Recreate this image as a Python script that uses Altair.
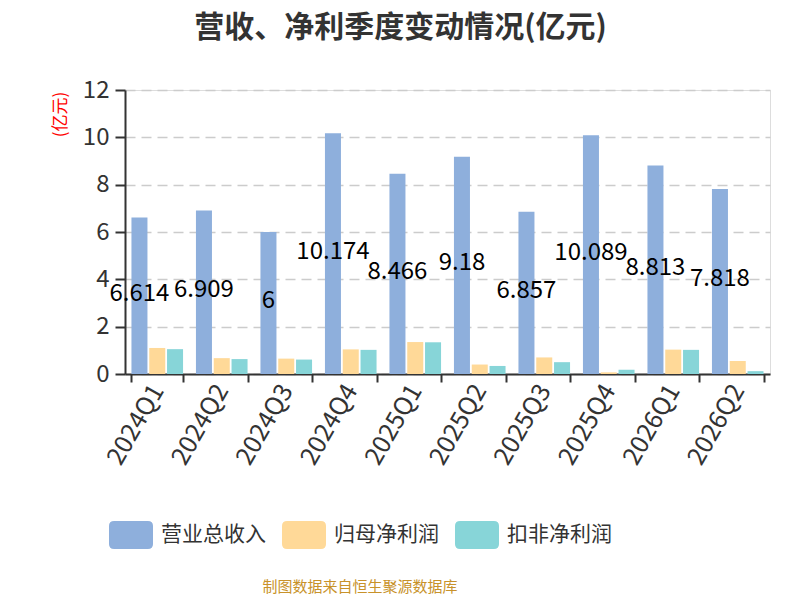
import altair as alt
import pandas as pd

quarters = ["2024Q1", "2024Q2", "2024Q3", "2024Q4", "2025Q1", "2025Q2", "2025Q3", "2025Q4", "2026Q1", "2026Q2"]
series_names = ["营业总收入", "归母净利润", "扣非净利润"]
revenue = [6.614, 6.909, 6, 10.174, 8.466, 9.18, 6.857, 10.089, 8.813, 7.818]
net_profit = [1.10, 0.67, 0.65, 1.04, 1.35, 0.40, 0.70, 0.07, 1.03, 0.55]
deducted_profit = [1.05, 0.63, 0.61, 1.02, 1.34, 0.34, 0.50, 0.18, 1.02, 0.12]
colors = ["#8EAFDC", "#FFD998", "#87D5D8"]

rows = []
for s, vals in zip(series_names, [revenue, net_profit, deducted_profit]):
    for q, v in zip(quarters, vals):
        rows.append({"quarter": q, "series": s, "value": v})
df = pd.DataFrame(rows)

FONT = "Noto Sans CJK SC"
legend_path = ("M-0.77,-0.636 L0.77,-0.636 Q1,-0.636 1,-0.41 L1,0.41 Q1,0.636 0.77,0.636 "
               "L-0.77,0.636 Q-1,0.636 -1,0.41 L-1,-0.41 Q-1,-0.636 -0.77,-0.636 Z")

x_enc = alt.X(
    "quarter:N",
    sort=quarters,
    scale=alt.Scale(paddingInner=0.2, paddingOuter=0.1),
    axis=alt.Axis(
        title=None,
        labelAngle=-60,
        labelFontSize=25,
        labelColor="#333333",
        labelFont=FONT,
        labelPadding=4,
        tickBand="extent",
        tickSize=8,
        tickWidth=2,
        tickColor="#333333",
        domainColor="#333333",
        domainWidth=2,
        grid=False,
    ),
)
xoff_enc = alt.XOffset(
    "series:N",
    sort=series_names,
    scale=alt.Scale(domain=series_names, paddingInner=0.1, paddingOuter=0),
)

bars = alt.Chart(df).mark_bar().encode(
    x=x_enc,
    xOffset=xoff_enc,
    y=alt.Y(
        "value:Q",
        scale=alt.Scale(domain=[0, 12], nice=False),
        axis=alt.Axis(
            values=[0, 2, 4, 6, 8, 10, 12],
            title="(亿元)",
            titleColor="red",
            titleFontSize=17,
            titleFontWeight="normal",
            titleFont=FONT,
            titleX=-65,
            titleY=24,
            titleAngle=270,
            titleAlign="center",
            titleBaseline="middle",
            labelFontSize=24,
            labelColor="#333333",
            labelFont=FONT,
            labelPadding=6,
            tickSize=10,
            tickWidth=2,
            tickColor="#333333",
            domainColor="#333333",
            domainWidth=2,
            grid=True,
            gridColor="#cccccc",
            gridDash=[10, 6],
            gridWidth=1.5,
        ),
    ),
    color=alt.Color(
        "series:N",
        sort=series_names,
        scale=alt.Scale(domain=series_names, range=colors),
        legend=alt.Legend(
            title=None,
            orient="none",
            legendX=-16,
            legendY=423,
            direction="horizontal",
            columns=3,
            symbolType=legend_path,
            symbolSize=1936,
            symbolStrokeWidth=0,
            symbolOpacity=1,
            labelFontSize=21,
            labelColor="#333333",
            labelFont=FONT,
            labelOffset=8,
            labelLimit=300,
            columnPadding=16,
        ),
    ),
)

labels = alt.Chart(df).transform_filter(
    alt.datum.series == "营业总收入"
).transform_calculate(
    half="datum.value / 2"
).mark_text(fontSize=24, color="#000000", font=FONT, baseline="middle", dy=-2).encode(
    x=alt.X("quarter:N", sort=quarters),
    xOffset=alt.XOffset("series:N", sort=series_names),
    y=alt.Y("half:Q"),
    text=alt.Text("value:Q"),
)

source = alt.Chart(pd.DataFrame({"t": ["制图数据来自恒生聚源数据库"]})).mark_text(
    fontSize=15, color="#C8922A", font=FONT, baseline="middle", align="center"
).encode(
    x=alt.value(235),
    y=alt.value(497),
    text="t:N",
)

chart = alt.layer(bars, labels, source).properties(
    width=645,
    height=284,
    title=alt.TitleParams(
        text="营收、净利季度变动情况(亿元)",
        fontSize=30,
        fontWeight="bold",
        color="#333333",
        font=FONT,
        anchor="middle",
        dx=-47,
        offset=35,
    ),
    autosize=alt.AutoSizeParams(type="none"),
    padding={"left": 117, "top": 82, "right": 22, "bottom": 222},
).configure_view(stroke=None).configure(font=FONT)

chart.save("out.html", embed_options={"renderer": "svg", "actions": False})
